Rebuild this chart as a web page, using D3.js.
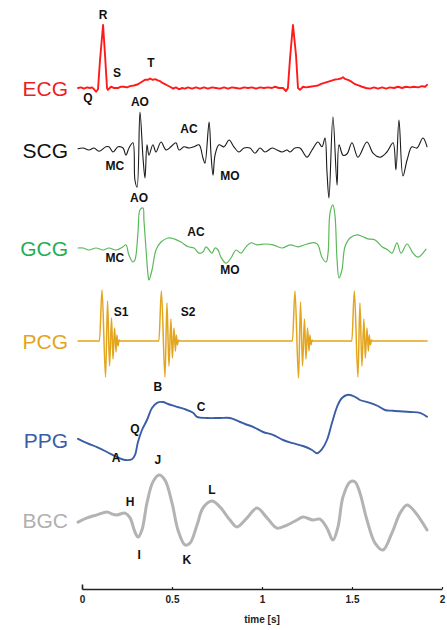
<!DOCTYPE html>
<html><head><meta charset="utf-8">
<script src="https://cdn.jsdelivr.net/npm/d3@7"></script>
<style>html,body{margin:0;padding:0;background:#fff;}svg{display:block;}</style>
</head><body>
<svg id="c" width="447" height="630"></svg>
<script>
// ---- data: [time (s), amplitude (a.u.)] ----
const ecg = [[-0.022,0],[-0.006,0.01],[0.011,-0.01],[0.028,0.01],[0.044,0],[0.056,0.01],[0.067,-0.02],[0.078,-0.06],[0.089,-0.02],[0.100,0.44],[0.117,1.0],[0.128,0.52],[0.139,0],[0.144,-0.03],[0.161,0.02],[0.178,0],[0.200,0],[0.217,0.02],[0.233,0.02],[0.250,0.01],[0.267,0.03],[0.289,0.04],[0.311,0.06],[0.333,0.1],[0.350,0.13],[0.367,0.13],[0.378,0.15],[0.394,0.13],[0.406,0.14],[0.422,0.12],[0.433,0.11],[0.447,0.08],[0.461,0.06],[0.475,0.04],[0.489,0.02],[0.506,-0.01],[0.522,0.01],[0.539,-0.02],[0.556,0],[0.572,-0.01],[0.589,0.01],[0.611,-0.01],[0.633,0.01],[0.656,-0.01],[0.678,0.01],[0.700,-0.01],[0.722,0.01],[0.744,0],[0.767,-0.01],[0.789,0.01],[0.811,-0.01],[0.833,0.01],[0.856,0],[0.878,-0.01],[0.900,0.01],[0.922,0],[0.944,0.01],[0.967,-0.01],[0.989,0.01],[1.011,0],[1.033,0.01],[1.056,0],[1.072,0.02],[1.094,0],[1.117,0],[1.133,-0.05],[1.144,0],[1.156,0.48],[1.172,1.0],[1.189,0.52],[1.200,0],[1.211,-0.03],[1.228,0.02],[1.244,0.01],[1.267,0.02],[1.289,0.03],[1.311,0.04],[1.333,0.07],[1.356,0.09],[1.378,0.11],[1.400,0.13],[1.422,0.14],[1.439,0.15],[1.450,0.17],[1.464,0.14],[1.478,0.13],[1.497,0.1],[1.517,0.06],[1.536,0.04],[1.556,0.02],[1.578,0],[1.600,-0.01],[1.622,0.01],[1.644,-0.01],[1.667,0.01],[1.689,-0.01],[1.711,0.01],[1.733,0],[1.756,0.02],[1.778,0],[1.800,0.02],[1.822,0.01],[1.844,0.02],[1.867,0.01],[1.889,0.03],[1.906,0.02],[1.917,0.05]];
const scg = [[-0.022,0.03],[0.006,0.05],[0.039,0],[0.067,0.05],[0.094,-0.03],[0.133,0.08],[0.150,0.08],[0.172,-0.05],[0.200,0.08],[0.228,0.05],[0.244,-0.13],[0.261,0.05],[0.283,0.18],[0.294,-0.75],[0.306,-0.93],[0.322,0.95],[0.339,-0.2],[0.350,-0.7],[0.361,0.13],[0.372,-0.13],[0.394,0.13],[0.411,-0.05],[0.439,0.2],[0.467,0],[0.494,0.08],[0.522,0.18],[0.539,0],[0.567,0.08],[0.594,0.05],[0.622,0.08],[0.650,0.13],[0.672,-0.2],[0.683,-0.33],[0.706,0.7],[0.717,-0.13],[0.728,-0.63],[0.739,-0.13],[0.761,0.13],[0.789,0.08],[0.817,0.25],[0.844,0.08],[0.872,-0.05],[0.900,0.05],[0.933,0.05],[0.961,-0.08],[0.989,0.05],[1.017,-0.05],[1.056,0.05],[1.083,0],[1.111,-0.05],[1.139,0],[1.156,-0.05],[1.183,0.05],[1.211,0.05],[1.250,-0.18],[1.278,0],[1.311,0.2],[1.333,0.08],[1.350,0.3],[1.361,-0.55],[1.372,-1.2],[1.394,0.83],[1.417,-0.88],[1.428,0.13],[1.450,-0.13],[1.472,-0.1],[1.500,0.18],[1.533,-0.18],[1.583,0.2],[1.617,-0.08],[1.656,-0.18],[1.694,-0.05],[1.728,0.18],[1.744,-0.5],[1.761,0.75],[1.783,-0.65],[1.806,-0.25],[1.833,0.08],[1.861,0.05],[1.894,0.3],[1.917,0.08]];
const gcg = [[-0.022,0],[0.006,0],[0.039,-0.05],[0.078,0],[0.117,-0.05],[0.150,0],[0.189,-0.05],[0.228,0.03],[0.244,0.08],[0.261,-0.18],[0.283,-0.35],[0.294,-0.3],[0.311,0.38],[0.322,0.95],[0.339,1.0],[0.344,0.7],[0.356,-0.05],[0.367,-0.68],[0.372,-0.8],[0.389,-0.55],[0.411,-0.05],[0.439,0.15],[0.478,0.25],[0.511,0.23],[0.550,0.15],[0.589,0.03],[0.622,0],[0.650,-0.13],[0.672,-0.1],[0.689,0.03],[0.706,-0.05],[0.722,-0.13],[0.739,0],[0.756,-0.05],[0.772,-0.23],[0.800,-0.38],[0.828,-0.25],[0.856,-0.05],[0.883,-0.13],[0.911,0.03],[0.939,0.13],[0.972,0.08],[1.017,0.1],[1.061,0.08],[1.111,0],[1.156,0.08],[1.200,0.03],[1.250,0.1],[1.294,0.13],[1.311,0.08],[1.333,-0.23],[1.356,-0.35],[1.367,-0.13],[1.378,0.88],[1.394,1.08],[1.406,0.78],[1.417,-0.3],[1.428,-0.75],[1.444,-0.55],[1.461,0.03],[1.489,0.25],[1.528,0.33],[1.561,0.28],[1.589,0.23],[1.628,0.2],[1.667,0.03],[1.700,-0.05],[1.722,-0.13],[1.750,0.13],[1.772,-0.13],[1.806,0.1],[1.839,-0.13],[1.867,-0.23],[1.911,-0.03]];
const pcg = [[-0.022,0],[0.097,0],[0.111,1.02],[0.131,-0.72],[0.142,0.8],[0.153,-0.5],[0.164,0.46],[0.172,-0.36],[0.181,0.26],[0.189,-0.22],[0.194,0.12],[0.200,-0.1],[0.206,0.02],[0.211,0],
  [0.427,0],[0.441,1.0],[0.461,-0.72],[0.472,0.76],[0.483,-0.5],[0.494,0.44],[0.502,-0.34],[0.511,0.26],[0.519,-0.2],[0.524,0.12],[0.530,-0.08],[0.536,0.02],[0.541,0],
  [1.169,0],[1.183,1.0],[1.203,-0.74],[1.214,0.78],[1.225,-0.5],[1.236,0.44],[1.244,-0.36],[1.253,0.26],[1.261,-0.2],[1.266,0.12],[1.272,-0.08],[1.278,0.02],[1.283,0],
  [1.499,0],[1.513,1.0],[1.533,-0.72],[1.544,0.76],[1.555,-0.5],[1.566,0.44],[1.574,-0.34],[1.583,0.26],[1.591,-0.2],[1.596,0.12],[1.602,-0.08],[1.608,0.02],[1.613,0],[1.917,0]];
const ppg = [[-0.022,0.03],[0.028,-0.08],[0.083,-0.18],[0.139,-0.3],[0.194,-0.43],[0.239,-0.5],[0.278,-0.48],[0.294,-0.38],[0.311,-0.05],[0.333,0.25],[0.361,0.5],[0.389,0.8],[0.417,0.93],[0.450,0.95],[0.478,0.9],[0.528,0.83],[0.583,0.75],[0.617,0.68],[0.639,0.58],[0.694,0.55],[0.767,0.55],[0.822,0.55],[0.878,0.45],[0.906,0.4],[0.950,0.33],[1.006,0.2],[1.061,0.13],[1.117,0],[1.172,-0.08],[1.228,-0.15],[1.278,-0.25],[1.306,-0.33],[1.333,-0.23],[1.361,0],[1.389,0.43],[1.417,0.83],[1.444,1.05],[1.478,1.13],[1.517,1.08],[1.544,1.0],[1.600,0.93],[1.644,0.85],[1.683,0.75],[1.728,0.73],[1.822,0.7],[1.878,0.68],[1.917,0.58]];
const bgc = [[-0.022,-0.07],[0.028,0.07],[0.083,0.17],[0.139,0.27],[0.167,0.2],[0.194,0.17],[0.239,0.23],[0.267,0.07],[0.294,-0.4],[0.311,-0.57],[0.333,-0.33],[0.361,0.57],[0.394,1.27],[0.428,1.5],[0.461,1.33],[0.5,0.57],[0.533,-0.33],[0.572,-0.83],[0.6,-0.77],[0.639,-0.17],[0.672,0.4],[0.722,0.63],[0.767,0.43],[0.822,0],[0.861,-0.23],[0.917,0.07],[0.972,0.4],[1.028,0.07],[1.083,-0.27],[1.139,-0.17],[1.194,0],[1.228,0.1],[1.283,0],[1.322,0.03],[1.361,-0.27],[1.394,-0.67],[1.422,-0.23],[1.450,0.77],[1.489,1.27],[1.517,1.27],[1.544,0.9],[1.583,0],[1.628,-0.77],[1.672,-1.0],[1.722,-0.43],[1.767,0.23],[1.806,0.5],[1.850,0.27],[1.917,-0.33]];

const seriesNames = ["ECG","SCG","GCG","PCG","PPG","BGC"];
const xTicks = [0,0.5,1,1.5,2];
const xLabel = "time [s]";
// annotations: [series, time (s), amplitude (a.u.), text]
const annotations = [
  ["ECG",0.117,1.16,"R"],["ECG",0.033,-0.16,"Q"],["ECG",0.194,0.24,"S"],["ECG",0.383,0.40,"T"],
  ["SCG",0.322,1.2,"AO"],["SCG",0.183,-0.38,"MC"],["SCG",0.594,0.53,"AC"],["SCG",0.822,-0.65,"MO"],["SCG",0.317,-1.18,"AO"],
  ["GCG",0.183,-0.25,"MC"],["GCG",0.633,0.40,"AC"],["GCG",0.822,-0.55,"MO"],
  ["PCG",0.217,0.58,"S1"],["PCG",0.589,0.58,"S2"],
  ["PPG",0.422,1.33,"B"],["PPG",0.661,0.83,"C"],["PPG",0.294,0.28,"Q"],["PPG",0.189,-0.45,"A"],["PPG",0.422,-0.5,"J"],
  ["BGC",0.267,0.6,"H"],["BGC",0.317,-1.17,"I"],["BGC",0.583,-1.33,"K"],["BGC",0.722,1.0,"L"]
];

// ---- layout ----
const svg = d3.select("#c");
const x = d3.scaleLinear().domain([0,2]).range([82,442]);
const layout = {
  ECG:{base:88,k:63,color:"#ff1a1a",label:"#f01c24",w:1.9,data:ecg,curve:d3.curveLinear},
  SCG:{base:150,k:40,color:"#1a1a1a",label:"#111",w:1.1,data:scg,curve:d3.curveCatmullRom.alpha(0.5)},
  GCG:{base:248,k:40,color:"#5cb85a",label:"#1fae55",w:1.2,data:gcg,curve:d3.curveCatmullRom.alpha(0.5)},
  PCG:{base:341,k:50,color:"#e3a51e",label:"#e3a51e",w:1.5,data:pcg,curve:d3.curveMonotoneX},
  PPG:{base:440,k:40,color:"#3a5da6",label:"#3a5da6",w:1.9,data:ppg,curve:d3.curveCatmullRom.alpha(0.5)},
  BGC:{base:520,k:30,color:"#b3b3b3",label:"#b0b0b0",w:3,data:bgc,curve:d3.curveCatmullRom.alpha(0.5)}
};
const ys = {};
seriesNames.forEach(n=>{
  const L = layout[n];
  ys[n] = d3.scaleLinear().domain([0,1]).range([L.base, L.base - L.k]);
});

const line = n => d3.line().x(d=>x(d[0])).y(d=>ys[n](d[1])).curve(layout[n].curve);

seriesNames.forEach(n=>{
  const L = layout[n];
  svg.append("path").datum(L.data)
    .attr("d", line(n))
    .attr("fill","none")
    .attr("stroke",L.color)
    .attr("stroke-width",L.w)
    .attr("stroke-linejoin","round")
    .attr("stroke-linecap","round");
  svg.append("text")
    .attr("x",68).attr("y",L.base)
    .attr("dy","0.36em")
    .attr("text-anchor","end")
    .attr("font-family","Liberation Sans, Arial, Helvetica, sans-serif")
    .attr("font-size",21)
    .attr("fill",L.label)
    .text(n);
});

svg.append("g").selectAll("text").data(annotations).join("text")
  .attr("x",d=>x(d[1]))
  .attr("y",d=>ys[d[0]](d[2]))
  .attr("dy","0.36em")
  .attr("text-anchor","middle")
  .attr("font-family","Liberation Sans, Arial, Helvetica, sans-serif")
  .attr("font-weight","bold")
  .attr("font-size",12)
  .attr("fill","#111")
  .text(d=>d[3]);

// ---- axis ----
const gx = svg.append("g").attr("transform","translate(0,589)")
  .call(d3.axisBottom(x).tickValues(xTicks).tickFormat(d3.format("~g")).tickSize(-2).tickSizeOuter(0).tickPadding(7));
gx.select(".domain").attr("stroke","#222").attr("stroke-width",1.6);
gx.selectAll(".tick line").attr("stroke","#222").attr("stroke-width",1.2);
gx.selectAll(".tick text").attr("font-family","Liberation Sans, Arial, Helvetica, sans-serif").attr("font-weight","bold").attr("font-size",10).attr("fill","#222");
const yStub = d3.scaleLinear().domain([0,1]).range([589,584]);
svg.append("g").attr("transform","translate(82,0)")
  .call(d3.axisLeft(yStub).tickValues([]).tickSizeOuter(0))
  .select(".domain").attr("stroke","#222").attr("stroke-width",1.6);
svg.append("text").attr("x",x(1)).attr("y",619).attr("dy","0.36em")
  .attr("text-anchor","middle")
  .attr("font-family","Liberation Sans, Arial, Helvetica, sans-serif")
  .attr("font-weight","bold").attr("font-size",10).attr("fill","#222")
  .text(xLabel);
</script>
</body></html>
